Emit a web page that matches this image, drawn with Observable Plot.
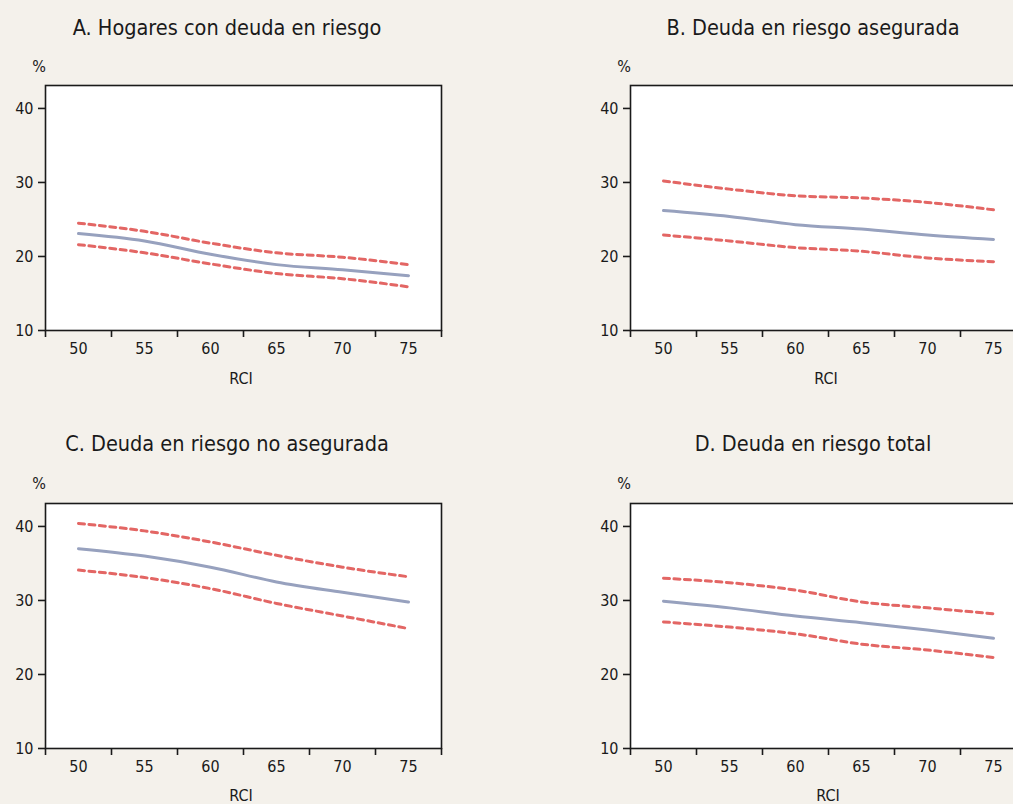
<!DOCTYPE html>
<html>
<head>
<meta charset="utf-8">
<script src="https://cdn.jsdelivr.net/npm/d3@7"></script>
<script src="https://cdn.jsdelivr.net/npm/@observablehq/plot@0.6"></script>
<style>
  html, body { margin: 0; padding: 0; background: #f4f1eb; overflow: hidden; }
  body { width: 1013px; height: 804px; position: relative; font-family: "Liberation Sans Narrow", "DejaVu Sans Condensed", "Liberation Sans", sans-serif; color: #1a1a1a; }
  .t { position: absolute; white-space: nowrap; transform: translate(-50%, -50%); }
  .title { font-size: 21.5px; }
  .small { font-size: 16px; }
  .svgbox { position: absolute; width: 470px; height: 315px; }
  .svgbox svg { max-width: none !important; width: 470px; height: 315px; }
</style>
</head>
<body>
<script>
// RCI categories
const rci = [50, 55, 60, 65, 70, 75];
const bandEdges = [47.5, 52.5, 57.5, 62.5, 67.5, 72.5, 77.5];
const yTicks = [10, 20, 30, 40];

// A. Hogares con deuda en riesgo
const aMid = [23.1, 22.1, 20.3, 18.9, 18.2, 17.4];
const aUp  = [24.5, 23.4, 21.8, 20.5, 19.9, 18.9];
const aLo  = [21.6, 20.5, 19.0, 17.7, 17.0, 15.9];
// B. Deuda en riesgo asegurada
const bMid = [26.2, 25.4, 24.3, 23.7, 22.9, 22.3];
const bUp  = [30.2, 29.1, 28.2, 27.9, 27.3, 26.3];
const bLo  = [22.9, 22.1, 21.2, 20.7, 19.8, 19.3];
// C. Deuda en riesgo no asegurada
const cMid = [37.0, 36.0, 34.5, 32.5, 31.1, 29.8];
const cUp  = [40.4, 39.4, 37.9, 36.1, 34.5, 33.2];
const cLo  = [34.1, 33.1, 31.6, 29.6, 27.9, 26.2];
// D. Deuda en riesgo total
const dMid = [29.9, 29.0, 27.9, 27.0, 26.0, 24.9];
const dUp  = [33.0, 32.4, 31.4, 29.8, 29.0, 28.2];
const dLo  = [27.1, 26.4, 25.5, 24.1, 23.3, 22.3];

const titles = ["A. Hogares con deuda en riesgo", "B. Deuda en riesgo asegurada",
                "C. Deuda en riesgo no asegurada", "D. Deuda en riesgo total"];

const RED = "#e36664";
const BLUE = "#97a1be";
const FONT = '"Liberation Sans Narrow", "DejaVu Sans Condensed", "Liberation Sans", sans-serif';

function panel(mid, up, lo) {
  const rows = rci.map((x, i) => ({x, mid: mid[i], up: up[i], lo: lo[i]}));
  return Plot.plot({
    width: 470, height: 315,
    marginLeft: 45, marginRight: 29, marginTop: 10, marginBottom: 60,
    x: {domain: [47.5, 77.5]},
    y: {domain: [10, 43.1]},
    style: {background: "transparent", fontFamily: FONT, fontSize: "16px", color: "#1a1a1a", overflow: "visible"},
    marks: [
      Plot.frame({fill: "white", stroke: null}),
      Plot.line(rows, {x: "x", y: "up", stroke: RED, strokeWidth: 3, strokeDasharray: "6,4.5", curve: "monotone-x"}),
      Plot.line(rows, {x: "x", y: "lo", stroke: RED, strokeWidth: 3, strokeDasharray: "6,4.5", curve: "monotone-x"}),
      Plot.line(rows, {x: "x", y: "mid", stroke: BLUE, strokeWidth: 3, curve: "monotone-x"}),
      Plot.frame({stroke: "#1a1a1a", strokeWidth: 1.6}),
      Plot.axisY(yTicks, {tickSize: 7, tickPadding: 5, label: null, stroke: "#1a1a1a", strokeWidth: 1.6}),
      Plot.axisX(bandEdges, {tickSize: 7, tickFormat: () => "", label: null, stroke: "#1a1a1a", strokeWidth: 1.6}),
      Plot.axisX(rci, {tickSize: 0, tickPadding: 12, label: null})
    ]
  });
}

const layout = [
  {mid: aMid, up: aUp, lo: aLo, left: 0,   top: 75,  cx: 227, ty: 27,  px: 39,  py: 66,  rx: 241, ry: 378},
  {mid: bMid, up: bUp, lo: bLo, left: 585, top: 75,  cx: 813, ty: 27,  px: 624, py: 66,  rx: 826, ry: 378},
  {mid: cMid, up: cUp, lo: cLo, left: 0,   top: 493, cx: 227, ty: 443, px: 39,  py: 483, rx: 241, ry: 795},
  {mid: dMid, up: dUp, lo: dLo, left: 585, top: 493, cx: 813, ty: 443, px: 624, py: 483, rx: 828, ry: 795}
];

layout.forEach((p, i) => {
  const box = document.createElement("div");
  box.className = "svgbox";
  box.style.left = p.left + "px";
  box.style.top = p.top + "px";
  box.appendChild(panel(p.mid, p.up, p.lo));
  document.body.appendChild(box);

  const t = document.createElement("div");
  t.className = "t title";
  t.style.left = p.cx + "px"; t.style.top = p.ty + "px";
  t.textContent = titles[i];
  document.body.appendChild(t);

  const pc = document.createElement("div");
  pc.className = "t small";
  pc.style.left = p.px + "px"; pc.style.top = p.py + "px";
  pc.textContent = "%";
  document.body.appendChild(pc);

  const r = document.createElement("div");
  r.className = "t small";
  r.style.left = p.rx + "px"; r.style.top = p.ry + "px";
  r.textContent = "RCI";
  document.body.appendChild(r);
});
</script>
</body>
</html>
